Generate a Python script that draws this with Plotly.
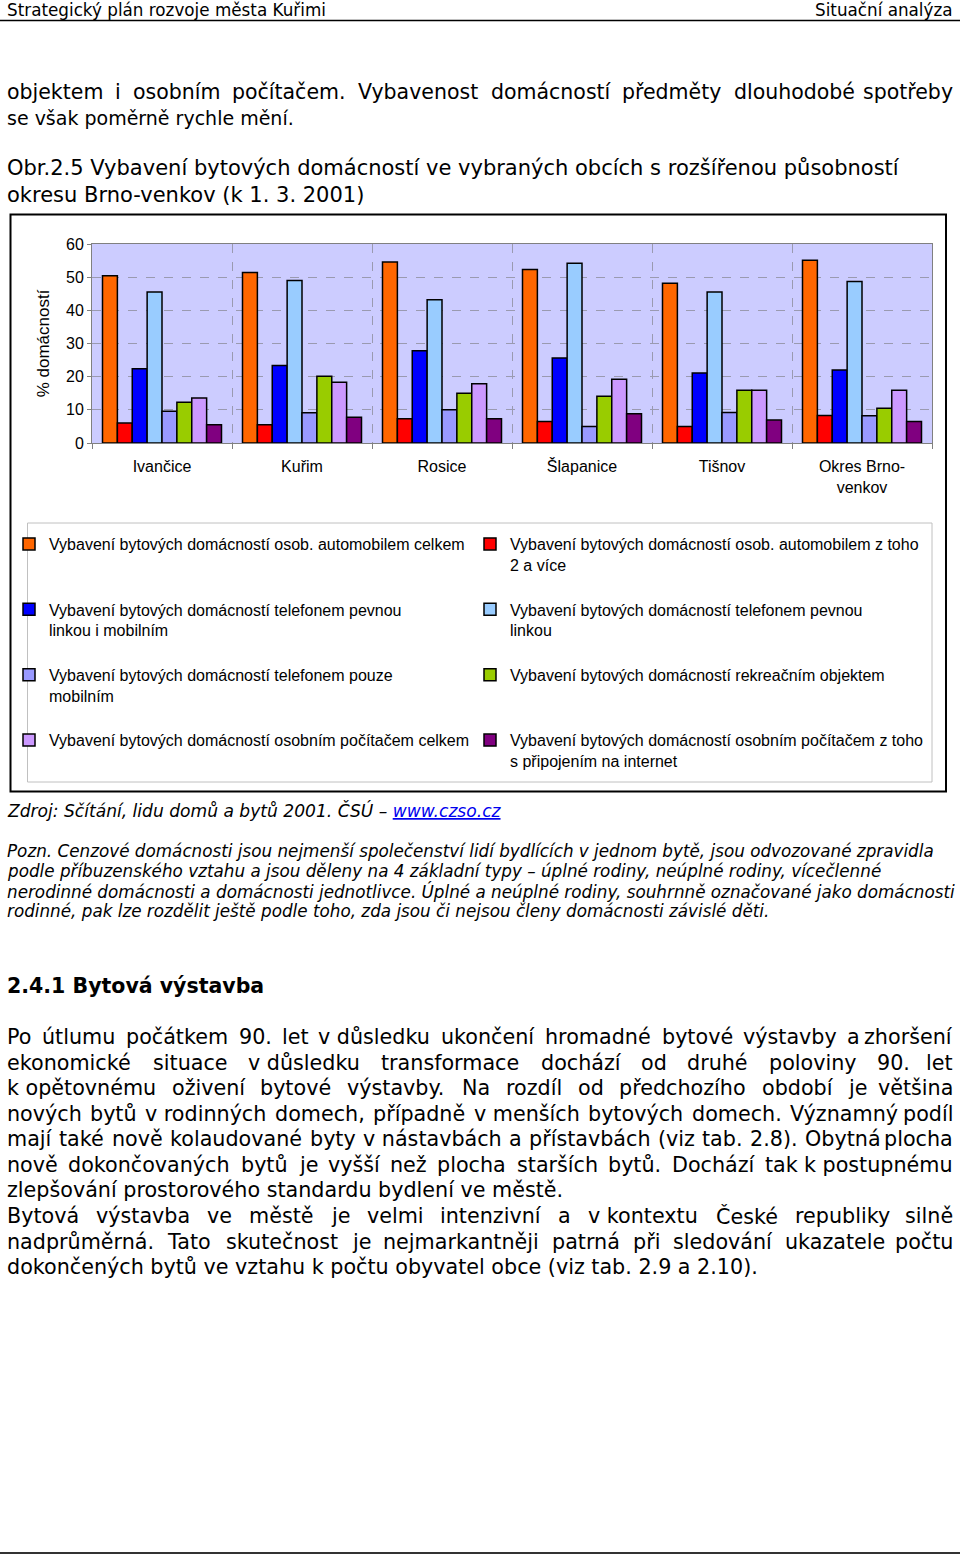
import plotly.graph_objects as go

# ---------------- data ----------------
categories = ["Ivančice", "Kuřim", "Rosice", "Šlapanice", "Tišnov", "Okres Brno-<br>venkov"]

car_total    = [50.4, 51.4, 54.6, 52.3, 48.2, 55.1]
car_2plus    = [6.0, 5.5, 7.3, 6.5, 5.0, 8.3]
phone_both   = [22.4, 23.4, 27.8, 25.6, 21.1, 22.0]
phone_fixed  = [45.5, 49.0, 43.2, 54.2, 45.5, 48.7]
phone_mobile = [9.6, 9.1, 10.0, 5.0, 9.2, 8.2]
recreation   = [12.3, 20.1, 15.0, 14.1, 15.9, 10.5]
pc_total     = [13.6, 18.3, 17.9, 19.2, 15.9, 15.9]
pc_internet  = [5.5, 7.8, 7.3, 8.8, 6.9, 6.5]

series_names = [
    "Vybavení bytových domácností osob. automobilem celkem",
    "Vybavení bytových domácností osob. automobilem z toho<br>2 a více",
    "Vybavení bytových domácností telefonem pevnou<br>linkou i mobilním",
    "Vybavení bytových domácností telefonem pevnou<br>linkou",
    "Vybavení bytových domácností telefonem pouze<br>mobilním",
    "Vybavení bytových domácností rekreačním objektem",
    "Vybavení bytových domácností osobním počítačem celkem",
    "Vybavení bytových domácností osobním počítačem z toho<br>s připojením na internet",
]
series_values = [car_total, car_2plus, phone_both, phone_fixed,
                 phone_mobile, recreation, pc_total, pc_internet]
series_colors = ["#FF6600", "#FF0000", "#0000FF", "#99CCFF",
                 "#9999FF", "#99CC00", "#CC99FF", "#800080"]

header_left = "Strategický plán rozvoje města Kuřimi"
header_right = "Situační analýza"
intro_lines = [
    ("objektem i osobním počítačem. Vybavenost domácností předměty dlouhodobé spotřeby", True, 20.5),
    ("se však poměrně rychle mění.", False, 19),
]
caption_lines = [
    "Obr.2.5 Vybavení bytových domácností ve vybraných obcích s rozšířenou působností",
    "okresu Brno-venkov (k 1. 3. 2001)",
]
source_text = ("<i>Zdroj: Sčítání, lidu domů a bytů 2001. ČSÚ – "
               "<span style='color:#0000EE'><u>www.czso.cz</u></span></i>")
note_lines = [
    "Pozn. Cenzové domácnosti jsou nejmenší společenství lidí bydlících v jednom bytě, jsou odvozované zpravidla",
    "podle příbuzenského vztahu a jsou děleny na 4 základní typy – úplné rodiny, neúplné rodiny, vícečlenné",
    "nerodinné domácnosti a domácnosti jednotlivce. Úplné a neúplné rodiny, souhrnně označované jako domácnosti",
    "rodinné, pak lze rozdělit ještě podle toho, zda jsou či nejsou členy domácnosti závislé děti.",
]
heading = "2.4.1 Bytová výstavba"
body_lines = [
    ("Po útlumu počátkem 90. let v důsledku ukončení hromadné bytové výstavby a zhoršení", True),
    ("ekonomické situace v důsledku transformace dochází od druhé poloviny 90. let", True),
    ("k opětovnému oživení bytové výstavby. Na rozdíl od předchozího období je většina", True),
    ("nových bytů v rodinných domech, případně v menších bytových domech. Významný podíl", True),
    ("mají také nově kolaudované byty v nástavbách a přístavbách (viz tab. 2.8). Obytná plocha", True),
    ("nově dokončovaných bytů je vyšší než plocha starších bytů. Dochází tak k postupnému", True),
    ("zlepšování prostorového standardu bydlení ve městě.", False),
    ("Bytová výstavba ve městě je velmi intenzivní a v kontextu České republiky silně", True),
    ("nadprůměrná. Tato skutečnost je nejmarkantněji patrná při sledování ukazatele počtu", True),
    ("dokončených bytů ve vztahu k počtu obyvatel obce (viz tab. 2.9 a 2.10).", False),
]

# ---------------- layout geometry ----------------
FW, FH = 960, 1557
ML, MR, MT, MB = 92, 28, 244, 1114
PW = FW - ML - MR
PH = FH - MT - MB


def px(x):
    return (x - ML) / PW


def py(y):
    return (MT + PH - y) / PH


fig = go.Figure()
for name, vals, col in zip(series_names, series_values, series_colors):
    fig.add_trace(go.Bar(
        x=categories, y=vals, name=name + "<br>&nbsp;",
        marker=dict(color=col, line=dict(color="#000000", width=1.5)),
    ))

ann = []
txt_font = "DejaVu Sans"

# approximate DejaVu Sans advance widths (em) used to justify text lines
_w = {" ": .318, ".": .318, ",": .318, "(": .390, ")": .390, "-": .361, ":": .337,
      "a": .613, "b": .635, "c": .550, "d": .635, "e": .615, "f": .352, "g": .635,
      "h": .634, "i": .278, "j": .278, "k": .579, "l": .278, "m": .974, "n": .634,
      "o": .612, "p": .635, "q": .635, "r": .411, "s": .521, "t": .392, "u": .634,
      "v": .592, "w": .818, "x": .592, "y": .592, "z": .525,
      "A": .684, "B": .686, "C": .698, "D": .770, "E": .632, "F": .575, "G": .775,
      "H": .752, "I": .295, "J": .295, "K": .656, "L": .557, "M": .863, "N": .748,
      "O": .787, "P": .603, "R": .695, "S": .635, "T": .611, "U": .732, "V": .684,
      "Z": .685}
for d in "0123456789":
    _w[d] = .636
_acc = {"á": "a", "é": "e", "í": "i", "ý": "y", "ů": "u", "ú": "u", "č": "c", "ě": "e",
        "ř": "r", "š": "s", "ž": "z", "ň": "n", "ť": "t", "ď": "d", "Č": "C", "É": "E",
        "Ú": "U", "Š": "S", "Ř": "R", "Ž": "Z"}


def text_w(s, size):
    return sum(_w.get(_acc.get(ch, ch), .6) for ch in s) * size


def add_text(x, y, text, size, xanchor="left", family=txt_font, color="#000000"):
    ann.append(dict(x=px(x), y=py(y), xref="paper", yref="paper", text=text,
                    showarrow=False, xanchor=xanchor, yanchor="middle",
                    font=dict(family=family, size=size, color=color), align="left"))


def add_line(y, line, size, justify, x0=5, x1=955):
    if not justify:
        add_text(x0, y, line, size)
        return
    toks = line.split(" ")
    words = []
    i = 0
    while i < len(toks):
        t = toks[i]
        if t in ("v", "k", "s", "z") and i + 1 < len(toks):
            words.append(t + "\u00a0" + toks[i + 1])
            i += 2
        else:
            words.append(t)
            i += 1
    widths = [text_w(w.replace("\u00a0", " "), size) for w in words]
    gap = (x1 - x0 - sum(widths)) / (len(words) - 1)
    x = x0
    for k, (w, wd) in enumerate(zip(words, widths)):
        if k == len(words) - 1:
            add_text(x1, y, w, size, xanchor="right")
        else:
            add_text(x, y, w, size)
        x += wd + gap


add_text(5, 10, header_left, 16.8)
add_text(955, 10, header_right, 16.8, xanchor="right")
for i, (t, j, s) in enumerate(intro_lines):
    add_line(92 + i * 26, t, s, j)
for i, t in enumerate(caption_lines):
    add_text(5, 168 + i * 27, t, 21)
add_text(5, 810, source_text, 17.1)
for i, t in enumerate(note_lines):
    add_text(5, 851 + i * 20, "<i>" + t + "</i>", 16.8)
add_text(5, 986, "<b>" + heading + "</b>", 20.5)
body_y = [1037, 1063, 1088, 1114, 1139, 1165, 1190, 1216, 1242, 1267]
for yy, (t, j) in zip(body_y, body_lines):
    add_line(yy, t, 20.7, j)

shapes = [
    dict(type="line", xref="paper", yref="paper", x0=px(0), x1=px(960), y0=py(20.5), y1=py(20.5),
         line=dict(color="#000000", width=1.5)),
    dict(type="line", xref="paper", yref="paper", x0=px(0), x1=px(960), y0=py(1553), y1=py(1553),
         line=dict(color="#333333", width=2)),
    dict(type="rect", xref="paper", yref="paper", x0=px(10.5), x1=px(946), y0=py(214.5), y1=py(791.5),
         line=dict(color="#000000", width=2), layer="below"),
    dict(type="rect", xref="paper", yref="paper", x0=px(27.5), x1=px(932), y0=py(523), y1=py(782),
         line=dict(color="#C0C0C0", width=1), layer="below"),
]

fig.update_layout(
    width=FW, height=FH,
    margin=dict(l=ML, r=MR, t=MT, b=MB, autoexpand=False),
    paper_bgcolor="#FFFFFF",
    plot_bgcolor="#CCCCFF",
    barmode="group",
    bargap=0.15,
    bargroupgap=0,
    font=dict(family="Liberation Sans, Arial", size=16, color="#000000"),
    showlegend=True,
    legend=dict(
        orientation="h",
        x=px(9), xanchor="left",
        y=py(527), yanchor="top",
        entrywidth=416, entrywidthmode="pixels",
        valign="top",
        traceorder="normal",
        bgcolor="rgba(0,0,0,0)",
        font=dict(family="Liberation Sans, Arial", size=16, color="#000000"),
        itemclick=False, itemdoubleclick=False,
    ),
    annotations=ann,
    shapes=shapes,
)

fig.update_xaxes(
    type="category",
    tickson="boundaries",
    ticks="outside", ticklen=5, tickcolor="#808080",
    showgrid=True, gridcolor="#9A9AB0", griddash="dash", gridwidth=1,
    showline=True, mirror=True, linecolor="#808080", linewidth=1,
    tickfont=dict(family="Liberation Sans, Arial", size=16, color="#000000"),
    ticklabelstandoff=9,
    automargin=False,
)
fig.update_yaxes(
    range=[0, 60], dtick=10, tick0=0,
    ticks="outside", ticklen=4, tickcolor="#808080",
    showgrid=True, gridcolor="#9A9AB0", griddash="dash", gridwidth=1,
    showline=True, mirror=True, linecolor="#808080", linewidth=1,
    zeroline=False,
    tickfont=dict(family="Liberation Sans, Arial", size=16, color="#000000"),
    title=dict(text="% domácností", standoff=12,
               font=dict(family="Liberation Sans, Arial", size=17, color="#000000")),
    automargin=False,
)

fig.write_html("out.html",
               config={"displayModeBar": False},
               post_script="document.body.style.margin='0px';document.body.style.overflow='hidden';")
